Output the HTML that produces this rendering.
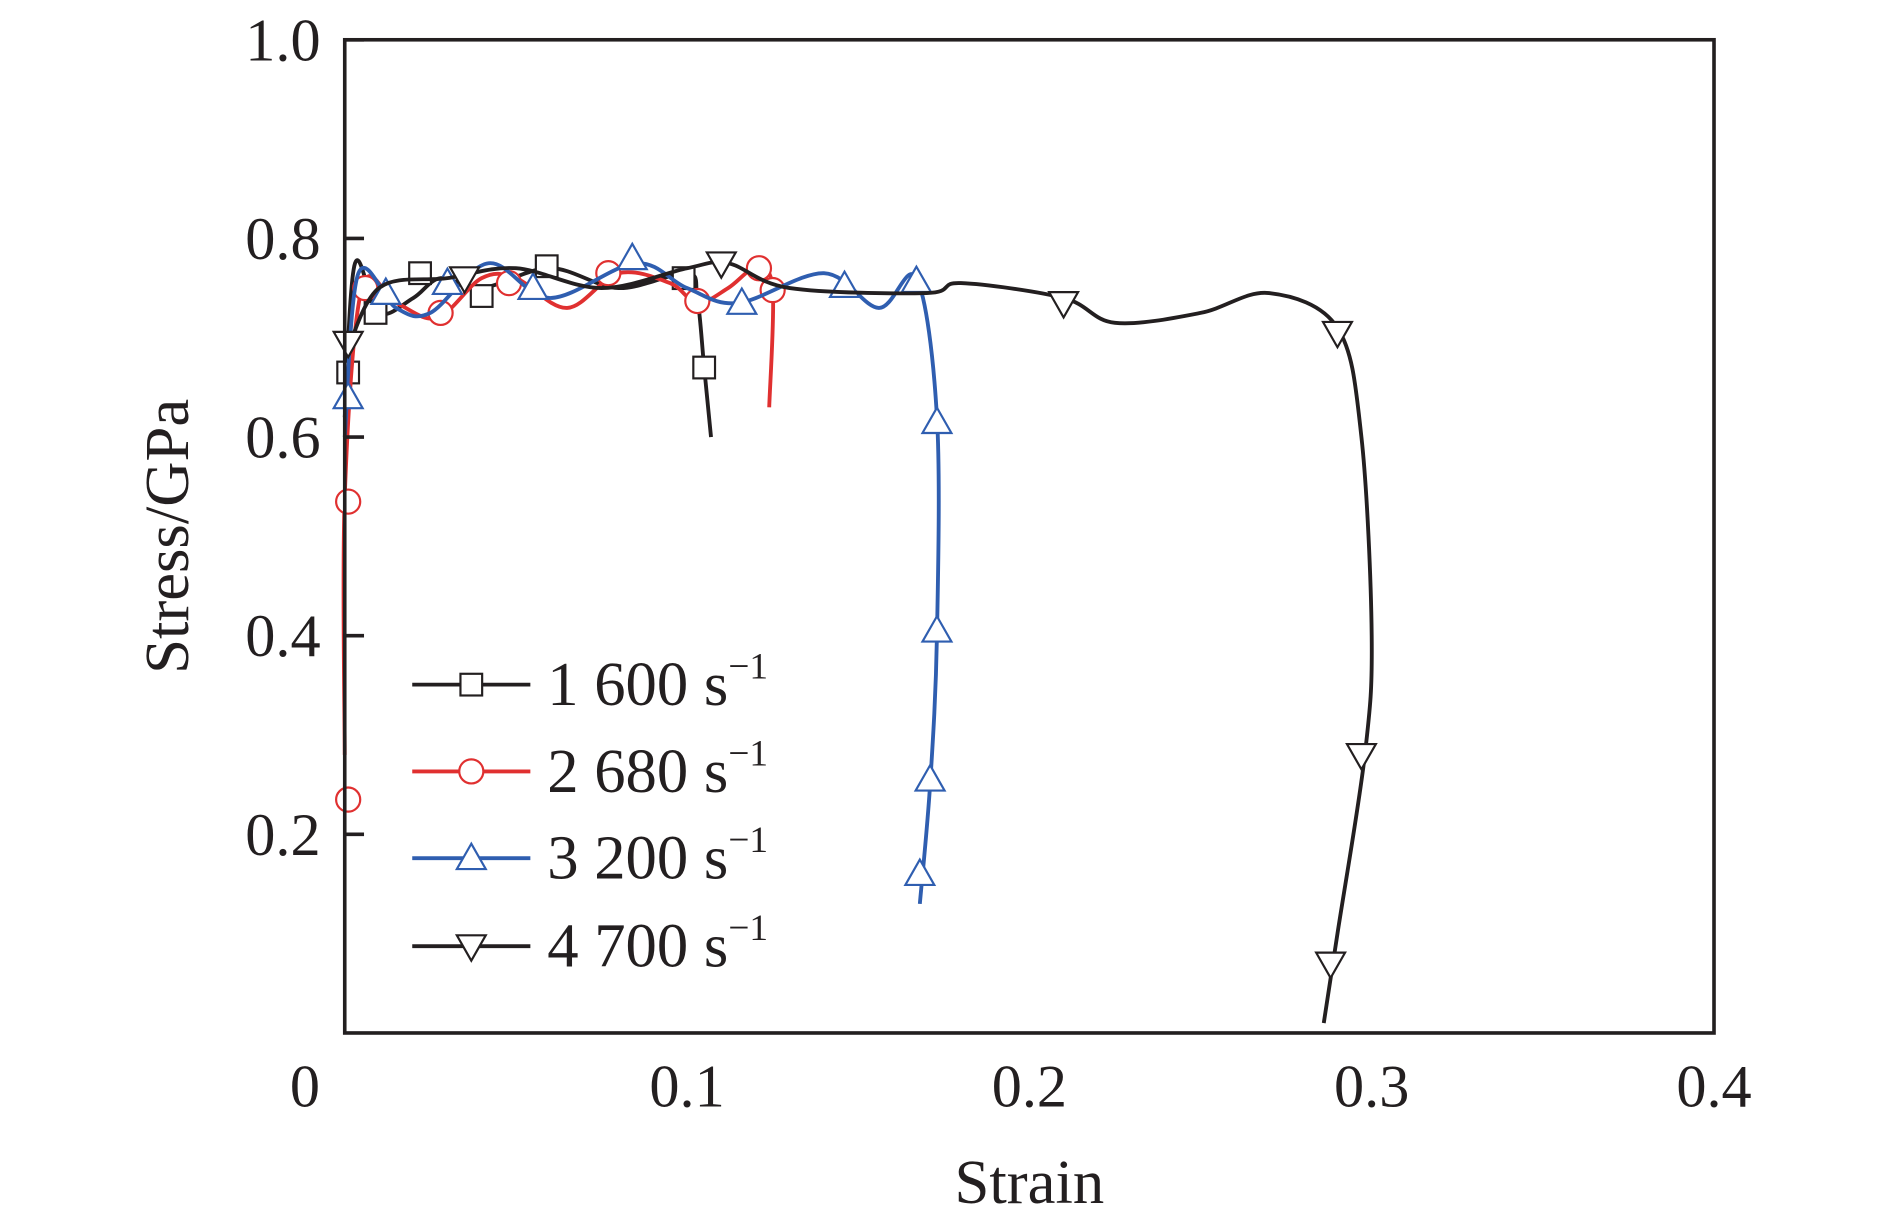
<!DOCTYPE html>
<html><head><meta charset="utf-8"><style>
html,body{margin:0;padding:0;background:#fff;}
svg{display:block;font-family:"Liberation Serif",serif;}
</style></head><body>
<svg id="chart" width="1890" height="1228" viewBox="0 0 1568 1018.8" xmlns="http://www.w3.org/2000/svg">
<g id="plot"></g>
</svg>
<script>
const xTicks=[0,0.1,0.2,0.3,0.4];
const xTickLabels=["0","0.1","0.2","0.3","0.4"];
const yTicks=[0.2,0.4,0.6,0.8,1.0];
const yTickLabels=["0.2","0.4","0.6","0.8","1.0"];
const seriesNames=["1 600","2 680","3 200","4 700"];
const s1Strain=[0,0.003,0.010,0.020,0.028,0.040,0.060,0.080,0.100,0.103,0.105,0.107];
const s1Stress=[0.62,0.775,0.725,0.74,0.76,0.75,0.77,0.75,0.765,0.74,0.67,0.60];
const s1MarkStrain=[0.001,0.009,0.022,0.040,0.059,0.099,0.105];
const s1MarkStress=[0.665,0.725,0.765,0.742,0.772,0.760,0.670];
const s2Strain=[0,0,0.005,0.015,0.027,0.040,0.050,0.065,0.080,0.095,0.103,0.112,0.120,0.125,0.124];
const s2Stress=[0.28,0.54,0.75,0.735,0.72,0.76,0.76,0.73,0.765,0.755,0.735,0.75,0.77,0.75,0.63];
const s2MarkStrain=[0.001,0.001,0.006,0.028,0.048,0.077,0.103,0.121,0.125];
const s2MarkStress=[0.235,0.535,0.750,0.725,0.755,0.765,0.737,0.770,0.748];
const s3Strain=[0,0.004,0.015,0.025,0.042,0.060,0.085,0.100,0.115,0.140,0.156,0.167,0.173,0.173,0.171,0.168];
const s3Stress=[0.60,0.765,0.73,0.725,0.775,0.74,0.775,0.75,0.735,0.765,0.73,0.76,0.62,0.40,0.25,0.13];
const s3MarkStrain=[0.001,0.012,0.030,0.055,0.084,0.116,0.146,0.167,0.173,0.173,0.171,0.168];
const s3MarkStress=[0.640,0.745,0.755,0.750,0.780,0.735,0.752,0.757,0.615,0.405,0.255,0.160];
const s4Strain=[0,0.010,0.030,0.050,0.075,0.100,0.112,0.130,0.170,0.180,0.210,0.225,0.250,0.270,0.290,0.297,0.300,0.298,0.290,0.286];
const s4Stress=[0.68,0.75,0.76,0.77,0.75,0.77,0.775,0.75,0.745,0.755,0.74,0.715,0.725,0.745,0.71,0.60,0.40,0.28,0.10,0.01];
const s4MarkStrain=[0.001,0.035,0.110,0.210,0.290,0.297,0.288];
const s4MarkStress=[0.695,0.760,0.775,0.735,0.705,0.280,0.070];

const L=286,R=1422,T=33,B=857;
const X=v=>L+(v/0.4)*(R-L);
const Y=v=>B-(v/1.0)*(B-T);
const NS="http://www.w3.org/2000/svg";
const g=document.getElementById('plot');
function mk(tag,attrs,parent){const e=document.createElementNS(NS,tag);for(const k in attrs)e.setAttribute(k,attrs[k]);(parent||g).appendChild(e);return e;}
function smooth(xs,ys){const p=xs.map((x,i)=>[X(x),Y(ys[i])]);let d=`M${p[0][0]},${p[0][1]}`;
for(let i=0;i<p.length-1;i++){const p0=p[i-1]||p[i],p1=p[i],p2=p[i+1],p3=p[i+2]||p2;
const c1=[p1[0]+(p2[0]-p0[0])/6,p1[1]+(p2[1]-p0[1])/6],c2=[p2[0]-(p3[0]-p1[0])/6,p2[1]-(p3[1]-p1[1])/6];
d+=`C${c1[0]},${c1[1]} ${c2[0]},${c2[1]} ${p2[0]},${p2[1]}`;}return d;}
function marker(type,cx,cy,color,parent){const s=10;let e;
if(type==='sq'){e=mk('rect',{x:cx-s+1,y:cy-s+1,width:2*s-2,height:2*s-2},parent);}
else if(type==='ci'){e=mk('circle',{cx:cx,cy:cy,r:s},parent);}
else if(type==='up'){e=mk('polygon',{points:`${cx},${cy-12} ${cx-12},${cy+9} ${cx+12},${cy+9}`},parent);}
else{e=mk('polygon',{points:`${cx},${cy+12} ${cx-12},${cy-9} ${cx+12},${cy-9}`},parent);}
e.setAttribute('fill','#fff');e.setAttribute('stroke',color);e.setAttribute('stroke-width','1.8');

return e;}

const series=[
 {xs:s1Strain,ys:s1Stress,mx:s1MarkStrain,my:s1MarkStress,c:'#231f20',m:'sq'},
 {xs:s2Strain,ys:s2Stress,mx:s2MarkStrain,my:s2MarkStress,c:'#e03030',m:'ci'},
 {xs:s3Strain,ys:s3Stress,mx:s3MarkStrain,my:s3MarkStress,c:'#2f5eb0',m:'up'},
 {xs:s4Strain,ys:s4Stress,mx:s4MarkStrain,my:s4MarkStress,c:'#231f20',m:'dn'}];
series.forEach((s,i)=>{
 const grp=mk('g',{});
 
 
 const p=mk('path',{d:smooth(s.xs,s.ys),fill:'none',stroke:s.c,'stroke-width':3.2},grp);
 
 
 s.mx.forEach((mx,j)=>marker(s.m,X(mx),Y(s.my[j]),s.c,grp));
});

const fr=mk('rect',{x:L,y:T,width:R-L,height:B-T,fill:'none',stroke:'#231f20','stroke-width':3});


yTicks.forEach((v,i)=>{
 const t=mk('line',{x1:L,x2:L+16,y1:Y(v),y2:Y(v),stroke:'#231f20','stroke-width':3});
 
 
 const tx=mk('text',{x:266,y:Y(v)+17,'text-anchor':'end','font-size':50,fill:'#231f20'});
 tx.textContent=yTickLabels[i];
 
 
});
xTicks.forEach((v,i)=>{
 const tx=mk('text',{x:v===0?253:X(v),y:918,'text-anchor':'middle','font-size':50,fill:'#231f20'});
 tx.textContent=xTickLabels[i];
 
 
});
const xt=mk('text',{x:854,y:998,'text-anchor':'middle','font-size':52,fill:'#231f20'});
xt.textContent='Strain';


const yt=mk('text',{x:0,y:0,'text-anchor':'middle','font-size':52,fill:'#231f20',transform:'translate(156,445) rotate(-90)'});
yt.textContent='Stress/GPa';



const legY=[568,640,712,785];
series.forEach((s,i)=>{
 const lg=mk('g',{});
 
 
 mk('line',{x1:342,x2:440,y1:legY[i],y2:legY[i],stroke:s.c,'stroke-width':3.2},lg);
 marker(s.m,391,legY[i],s.c,lg);
 const t=mk('text',{x:454,y:legY[i]+17,'font-size':52,fill:'#231f20'},lg);
 t.textContent=seriesNames[i]+' s';
 const sup=mk('tspan',{dy:-22,'font-size':31},t);sup.textContent='−1';
});
</script>
</body></html>
